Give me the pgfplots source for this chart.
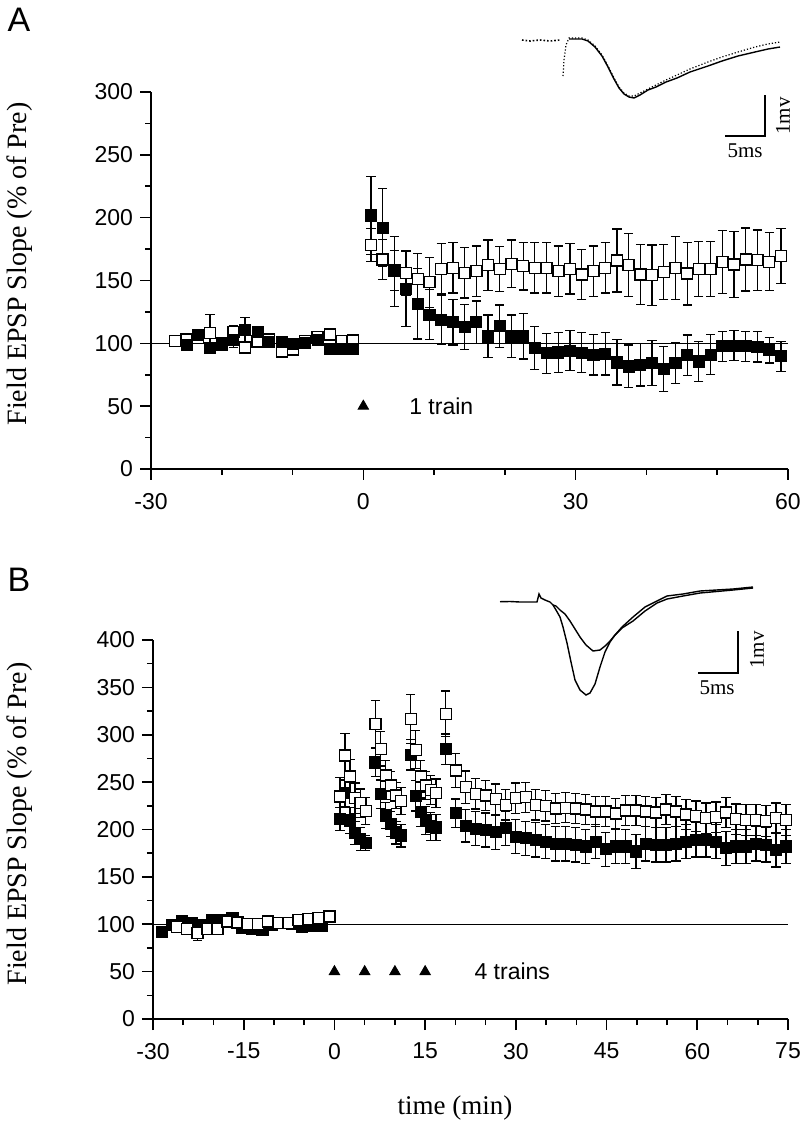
\documentclass[border=0pt]{standalone}
\usepackage{fontspec}
\setmainfont{Liberation Sans}
\newfontfamily\tnr{Liberation Serif}
\usepackage{pgfplots}
\pgfplotsset{compat=1.18}
\pgfplotsset{
  panel/.style={scale only axis, axis lines=left,
    axis line style={-, line width=0.8pt},
    tick align=outside, tick style={black, line width=0.8pt},
    major tick length=5.5pt, minor tick length=3pt,
    tick label style={font=\fontsize{11.5}{13}\selectfont},
    xticklabel style={yshift=-3pt},
    /pgf/number format/assume math mode=true, clip=false},
  filled/.style={only marks, mark=square*, mark size=2.75pt,
    mark options={fill=black, draw=black, line width=0.6pt},
    error bars/.cd, y dir=both, y explicit,
    error bar style={line width=0.6pt, black},
    error mark options={rotate=90, mark size=2.3pt, line width=0.6pt, black}},
  open/.style={only marks, mark=square*, mark size=2.75pt,
    mark options={fill=white, draw=black, line width=0.7pt},
    error bars/.cd, y dir=both, y explicit,
    error bar style={line width=0.6pt, black},
    error mark options={rotate=90, mark size=2.3pt, line width=0.6pt, black}},
}
\begin{document}
\begin{tikzpicture}
\path[use as bounding box] (0,0) rectangle (400pt,570.5pt);

% ---------------- Panel A ----------------
\begin{axis}[panel, at={(75.5pt,336pt)}, anchor=south west,
  width=318.5pt, height=188.5pt,
  xmin=-30, xmax=60, ymin=0, ymax=300,
  xtick={-30,0,30,60}, minor xtick={-20,-10,10,20,40,50},
  ytick={0,50,...,300}, minor ytick={25,75,...,275}]
\addplot[black, line width=0.6pt] coordinates {(-30,100) (60,100)};
% open, pre + post
\addplot[open] table[x=t,y=v,y error=e] {
t v e
-26.61 102 3
-24.96 103 3
-23.32 104 3
-21.66 108.2 15
-20.01 99 3
-18.37 109 5
-16.72 96.8 3
-14.93 101.3 3
-13.29 103 3
-11.53 93.6 3
-9.90 95 3
-8.24 102 3
-6.45 104.8 3
-4.71 107 3
-3.06 102 3
-1.50 102.4 3
1.07 178.3 13
2.73 166.6 16
4.38 158 16
6.04 156 18
7.69 151.2 20
9.35 148.6 20
11.00 159.2 20
12.66 160.1 20
14.31 156.1 20
15.97 157.4 20
17.62 162.2 20
19.28 159.3 18
20.93 163.3 19
22.59 161.4 19
24.24 160.1 20
25.90 160.1 20
27.55 157.4 20
29.21 159.3 20
30.86 154.7 20
32.52 157.4 20
34.17 160.1 20
35.83 165.9 25
37.48 162.2 25
39.14 154.7 24
40.79 154.2 24
42.45 156.9 22
44.10 160.1 25
45.76 155.5 25
47.41 159.3 22
49.07 159.3 22
50.72 164.9 25
52.38 162.7 26
54.03 166.7 25
55.69 166.2 24
57.34 164.9 23
59.00 169.4 22
};
\addplot[filled] table[x=t,y=v,y error=e] {
t v e
-24.96 98.4 3
-23.32 106.4 3
-21.66 96.3 3
-20.01 100 3
-18.37 102.7 6
-16.72 110.4 10
-14.93 108.8 3
-13.29 101 3
-11.53 100.8 3
-9.90 99.7 3
-8.24 100 3
-6.45 102.4 3
-4.71 95.5 3
-3.06 95.7 3
-1.50 95.7 3
1.07 201.7 31
2.73 191.9 31
4.38 157.3 28
6.04 143.5 30
7.69 131.5 28
9.35 122.8 20
11.00 118.3 19.5
12.66 116.7 18
14.31 113 18
15.97 116.7 17
17.62 105.5 17
19.28 113.5 17
20.93 105.5 17
22.59 105.5 18
24.24 96.3 17
25.90 92 16
27.55 92.7 16
29.21 94.2 16
30.86 92.5 16
32.52 90.8 16
34.17 91.8 17
35.83 84.8 18
37.48 81.6 17
39.14 83 17
40.79 84.3 18
42.45 79.5 18
44.10 84.3 16
45.76 90.7 16
47.41 85.6 16
49.07 91 16
50.72 97.6 12
52.38 98.1 12
54.03 97.6 12
55.69 97.1 12
57.34 94.4 10
59.00 89.6 12
};
\addplot[only marks, mark=triangle*, mark size=3pt, black] coordinates {(0,50)};
\node[anchor=west, font=\fontsize{11.5}{13}\selectfont] at (axis cs:5.5,50) {1 train};
\end{axis}

% ---------------- Panel B ----------------
\begin{axis}[panel, at={(76.5pt,61pt)}, anchor=south west,
  width=317.5pt, height=189.5pt,
  xmin=-30, xmax=75, ymin=0, ymax=400,
  xtick={-30,-15,...,75}, minor xtick={-25,-20,-10,-5,5,10,20,25,35,40,50,55,65,70},
  ytick={0,50,...,400}, minor ytick={25,75,...,375}]
\addplot[black, line width=0.6pt] coordinates {(-30,100) (75,100)};
\addplot[filled] table[x=t,y=v,y error=e] {
t v e
-28.55 91.6 3
-26.89 99.3 3
-25.24 103.5 3
-23.49 101 3
-21.83 99 3
-20.18 104 3
-18.53 104.5 3
-16.87 106 3
-15.22 96 3
-13.57 95 3
-11.91 94 3
-10.26 99.5 3
-8.61 101 3
-6.95 100 3
-5.30 97.5 3
-3.65 98 3
-2.00 98.2 3
0.93 211.2 12
1.76 238.3 14
2.58 209.5 14
3.41 196.1 12
4.29 189.8 12
5.18 185.5 8
6.77 270.7 15
7.66 237.3 15
8.49 214.7 14
9.31 206.0 13
10.19 196.8 12
11.02 193.6 12
12.62 278.8 16
13.44 235.5 16
14.27 218.3 15
15.10 209.5 15
15.93 203.1 15
16.80 202.1 14
18.40 284.8 16
20.06 217.2 15
21.71 203.8 17
23.37 200.7 18
25.02 199.5 18
26.68 197.1 18
28.33 201.3 18
29.99 192.5 18
31.64 190.7 18
33.30 189.0 18
34.95 187.2 18
36.61 184.8 18
38.26 184.8 18
39.92 183.7 18
41.57 182.0 18
43.23 187.2 18
44.88 179.1 18
46.54 182.0 18
48.19 182.0 18
49.85 176.7 18
51.50 184.8 18
53.16 183.7 18
54.81 183.7 18
56.47 184.8 18
58.12 187.2 18
59.78 189.0 18
61.43 189.0 18
63.09 187.2 18
64.74 180.2 18
66.40 182.0 18
68.05 182.0 18
69.71 184.8 18
71.36 183.7 18
73.02 178.4 18
74.67 182.0 18
};
\addplot[open] table[x=t,y=v,y error=e] {
t v e
-26.07 96.8 3
-24.41 94.7 3
-22.66 90.5 8
-21.01 94.7 3
-19.35 94.7 5
-17.70 102.8 3
-16.05 101.8 3
-14.39 100.3 3
-12.67 100.3 3
-11.02 102.8 3
-9.27 101.1 3
-7.62 101.1 3
-5.96 104.6 3
-4.31 105.6 3
-2.66 106.3 3
-0.84 108.1 3
0.93 234.8 20
1.76 278.1 23
2.58 255.9 18
3.41 233.0 16
4.29 227.8 15
5.18 219.7 14
6.77 311.5 25
7.66 285.1 18
8.49 257.0 16
9.31 246.4 15
10.19 235.9 14
11.02 230.2 14
12.62 316.5 26
13.44 284.1 20
14.27 255.9 17
15.10 246.4 15
15.93 241.8 15
16.80 238.3 15
18.40 322.1 24
20.06 262.3 18
21.71 244.7 17
23.37 237.6 16
25.02 236 16
26.68 232 16
28.33 226 16
29.99 233 16
31.64 234 16
33.30 226 16
34.95 225 16
36.61 222 16
38.26 223 16
39.92 222 16
41.57 221 16
43.23 219 16
44.88 219 16
46.54 217 16
48.19 220 16
49.85 220 16
51.50 219 16
53.16 218 16
54.81 221 16
56.47 219 16
58.12 216 16
59.78 214 16
61.43 212 16
63.09 213 16
64.74 218 16
66.40 211 16
68.05 210 16
69.71 210 16
71.36 209 16
73.02 212 16
74.67 210 16
};
\addplot[only marks, mark=triangle*, mark size=3pt, black] coordinates {(0,50) (5,50) (10,50) (15,50)};
\node[anchor=west, font=\fontsize{11.5}{13}\selectfont] at (axis cs:22,50) {4 trains};
\end{axis}

% ---------------- overlay in pixel units: insets, labels ----------------
\begin{axis}[at={(0pt,0pt)}, anchor=south west, scale only axis,
  width=400pt, height=570.5pt, xmin=0, xmax=800, ymin=0, ymax=1141,
  y dir=reverse, hide axis, clip=false]
% inset A traces
\addplot[black, line width=0.8pt, densely dotted] coordinates {
(522,40) (530,41) (540,40) (550,41) (560,40)};
\addplot[black, line width=0.6pt, densely dotted] coordinates {
(563,76) (564,60) (566,45) (569,38) (575,38) (582,38) (588,40) (595,46) (602,55) (608,66) (614,78) (619,87) (624,93) (629,96) (634,96) (640,93) (648,89) (656,85) (666,80) (677,75) (690,69) (708,62) (722,57) (738,52) (755,47) (768,44) (780,42)};
\addplot[black, line width=0.7pt] coordinates {
(569,39) (575,39) (582,39) (588,41) (595,47) (602,56) (608,67) (614,79) (619,88) (624,94) (629,97) (634,98) (640,95) (648,90) (656,87) (666,82) (677,78) (690,72) (708,66) (722,61) (738,56) (755,52) (768,49) (780,47)};
\addplot[black, line width=0.8pt] coordinates {(765,95) (765,136) (725,136)};
\node[font=\tnr\fontsize{10.5}{12}\selectfont] at (axis cs:745,151) {5ms};
\node[font=\tnr\fontsize{10.5}{12}\selectfont, rotate=90] at (axis cs:783,116) {1mv};
% inset B traces
\addplot[black, line width=0.7pt] coordinates {
(500,601.7) (510,601.5) (520,602) (530,602) (537,602) (539,594) (541,598) (545,600) (550,602) (553,605)
(556,610) (560,617) (563,627) (567,643) (571,662) (575,680) (580,690) (586,695) (590,693) (595,684) (600,667) (605,652) (610,642) (615,635) (622,628) (633,621) (645,611) (657,603) (667,599) (683,596) (700,593) (733,590) (753,588)};
\addplot[black, line width=0.7pt] coordinates {
(553,605) (556,606) (560,610) (565,614) (570,621) (575,629) (580,637) (586,645) (593,651) (600,650) (605,646) (610,641) (615,635) (622,627) (633,617) (645,607) (657,601) (667,596) (683,594) (700,591) (733,589) (753,587)};
\addplot[black, line width=0.8pt] coordinates {(738,631) (738,673) (698,673)};
\node[font=\tnr\fontsize{10.5}{12}\selectfont] at (axis cs:717,688) {5ms};
\node[font=\tnr\fontsize{10.5}{12}\selectfont, rotate=90] at (axis cs:757,650) {1mv};
% labels
\node[font=\fontsize{17}{19}\selectfont] at (axis cs:19,20) {A};
\node[font=\fontsize{17}{19}\selectfont] at (axis cs:19,580) {B};
\node[font=\tnr\fontsize{14}{16}\selectfont, rotate=90] at (axis cs:20,264) {Field EPSP Slope (\% of Pre)};
\node[font=\tnr\fontsize{14}{16}\selectfont, rotate=90] at (axis cs:20,824) {Field EPSP Slope (\% of Pre)};
\node[font=\tnr\fontsize{13.5}{16}\selectfont] at (axis cs:455,1108) {time (min)};
\end{axis}
\end{tikzpicture}
\end{document}
